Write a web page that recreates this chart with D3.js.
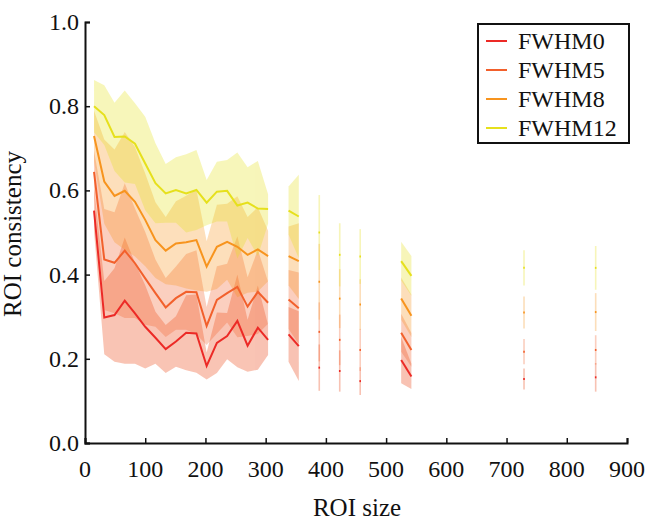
<!DOCTYPE html>
<html>
<head>
<meta charset="utf-8">
<script src="https://cdn.jsdelivr.net/npm/d3@7"></script>
<style>
  body { margin: 0; background: #fff; }
  text { font-family: "Liberation Serif", "Times New Roman", serif; fill: #111; }
</style>
</head>
<body>
<div id="chart"></div>
<script>

// ROI sizes that have data, and which run of consecutive sizes each one belongs to
let roiSize = [15, 32, 49, 66, 83, 100, 117, 134, 151, 168, 185, 202, 219, 236, 253, 270, 287, 304,
               338, 355, 389, 423, 457, 525, 542, 729, 848]
let runId   = [0, 0, 0, 0, 0, 0, 0, 0, 0, 0, 0, 0, 0, 0, 0, 0, 0, 0,
               1, 1, 2, 3, 4, 5, 5, 6, 7]

let seriesNames = ['FWHM0', 'FWHM5', 'FWHM8', 'FWHM12']

// mean ROI consistency
let fwhm0 = [0.552, 0.298, 0.304, 0.338, 0.308, 0.276, 0.250, 0.223, 0.241, 0.262, 0.260, 0.183, 0.238, 0.254, 0.290, 0.231, 0.274, 0.245,
             0.258, 0.230, 0.179, 0.171, 0.147, 0.197, 0.158, 0.152, 0.156]
let fwhm5 = [0.644, 0.436, 0.428, 0.457, 0.427, 0.391, 0.356, 0.322, 0.344, 0.359, 0.358, 0.278, 0.340, 0.356, 0.371, 0.324, 0.359, 0.333,
             0.341, 0.320, 0.264, 0.245, 0.221, 0.262, 0.221, 0.217, 0.221]
let fwhm8 = [0.729, 0.621, 0.587, 0.599, 0.573, 0.530, 0.482, 0.457, 0.474, 0.477, 0.482, 0.419, 0.466, 0.478, 0.466, 0.447, 0.460, 0.444,
             0.444, 0.432, 0.383, 0.343, 0.329, 0.343, 0.302, 0.310, 0.311]
let fwhm12 = [0.800, 0.779, 0.727, 0.728, 0.711, 0.664, 0.617, 0.593, 0.601, 0.593, 0.601, 0.571, 0.597, 0.599, 0.564, 0.571, 0.557, 0.556,
              0.552, 0.538, 0.500, 0.447, 0.443, 0.432, 0.397, 0.416, 0.416]

// spread (shaded band = mean +/- sd)
let sd0 = [0.050, 0.087, 0.111, 0.150, 0.120, 0.099, 0.062, 0.057, 0.060, 0.089, 0.093, 0.032, 0.072, 0.055, 0.110, 0.062, 0.100, 0.036,
           0.065, 0.083, 0.055, 0.049, 0.033, 0.055, 0.030, 0.025, 0.034]
let sd5 = [0.050, 0.120, 0.120, 0.160, 0.130, 0.110, 0.080, 0.070, 0.075, 0.090, 0.100, 0.045, 0.080, 0.070, 0.120, 0.070, 0.100, 0.050,
           0.070, 0.085, 0.070, 0.060, 0.050, 0.045, 0.040, 0.030, 0.035]
let sd8 = [0.060, 0.100, 0.110, 0.140, 0.130, 0.110, 0.090, 0.080, 0.100, 0.110, 0.120, 0.060, 0.100, 0.090, 0.120, 0.090, 0.100, 0.060,
           0.070, 0.090, 0.090, 0.070, 0.060, 0.050, 0.050, 0.038, 0.045]
let sd12 = [0.062, 0.071, 0.081, 0.109, 0.096, 0.111, 0.095, 0.070, 0.078, 0.093, 0.095, 0.054, 0.071, 0.073, 0.126, 0.084, 0.113, 0.035,
            0.057, 0.099, 0.089, 0.075, 0.065, 0.046, 0.047, 0.042, 0.052]

let xTicks = [0, 100, 200, 300, 400, 500, 600, 700, 800, 900]
let yTicks = [0.0, 0.2, 0.4, 0.6, 0.8, 1.0]

let colors = ['#ec2a26', '#f2602c', '#f7941e', '#e6e01c']
// bands are a bit warmer than the lines
let bandColors = ['#ea3a06', '#f2602c', '#f7941e', '#e6e01c']

let means = [fwhm0, fwhm5, fwhm8, fwhm12]
let sds = [sd0, sd5, sd8, sd12]

let width = 652, height = 524
let margin = {left: 85, right: 25, top: 22, bottom: 81}

let svg = d3.select('#chart')
            .append('svg')
            .attr('width', width)
            .attr('height', height)

let x = d3.scaleLinear().domain([0, 900]).range([margin.left, width - margin.right])
let y = d3.scaleLinear().domain([0, 1]).range([height - margin.bottom, margin.top])

let series = seriesNames.map(function(name, i){
    let pts = roiSize.map(function(s, j){
        return {size: s, run: runId[j], mean: means[i][j], lo: means[i][j] - sds[i][j], hi: means[i][j] + sds[i][j]}
    })
    let runs = d3.groups(pts, d => d.run).map(d => d[1])
    return {name: name, color: colors[i], band: bandColors[i], runs: runs}
})

let area = d3.area()
             .x(d => x(d.size))
             .y0(d => y(d.lo))
             .y1(d => y(d.hi))
let line = d3.line()
             .x(d => x(d.size))
             .y(d => y(d.mean))

// bands first
let bands = svg.append('g')
series.forEach(function(s){
    let g = bands.append('g').attr('fill', s.band).attr('stroke', s.band).attr('opacity', 0.3)
    s.runs.forEach(function(r){
        if (r.length > 1){
            g.append('path').attr('d', area(r)).attr('stroke', 'none')
        } else {
            g.append('line')
             .attr('x1', x(r[0].size)).attr('x2', x(r[0].size))
             .attr('y1', y(r[0].lo)).attr('y2', y(r[0].hi))
             .attr('stroke-width', 1.6)
        }
    })
})

// mean lines on top
let lines = svg.append('g')
series.forEach(function(s){
    s.runs.forEach(function(r){
        if (r.length > 1){
            lines.append('path').attr('d', line(r))
                 .attr('fill', 'none').attr('stroke', s.color).attr('stroke-width', 2)
        } else {
            lines.append('line')
                 .attr('x1', x(r[0].size)).attr('x2', x(r[0].size))
                 .attr('y1', y(r[0].mean) - 1).attr('y2', y(r[0].mean) + 1)
                 .attr('stroke', s.color).attr('stroke-width', 1.6)
        }
    })
})

// axes: ticks point inward
let xAxis = d3.axisTop(x).tickValues(xTicks).tickSize(5).tickFormat('')
let yAxis = d3.axisRight(y).tickValues(yTicks).tickSize(5).tickFormat('')

svg.append('g')
   .attr('transform', 'translate(0,' + y(0) + ')')
   .call(xAxis)
   .call(g => g.select('.domain').attr('stroke', '#111').attr('stroke-width', 2))
   .call(g => g.selectAll('.tick line').attr('stroke', '#111').attr('stroke-width', 1.5))

svg.append('g')
   .attr('transform', 'translate(' + x(0) + ',0)')
   .call(yAxis)
   .call(g => g.select('.domain').attr('stroke', '#111').attr('stroke-width', 2))
   .call(g => g.selectAll('.tick line').attr('stroke', '#111').attr('stroke-width', 1.5))

svg.append('g').selectAll('text')
   .data(xTicks)
   .enter()
   .append('text')
   .attr('x', d => x(d))
   .attr('y', 477)
   .attr('text-anchor', 'middle')
   .style('font-size', '24px')
   .text(d => d)

svg.append('g').selectAll('text')
   .data(yTicks)
   .enter()
   .append('text')
   .attr('x', 79)
   .attr('y', d => y(d) + 8)
   .attr('text-anchor', 'end')
   .style('font-size', '24px')
   .text(d => d.toFixed(1))

svg.append('text')
   .attr('x', 357)
   .attr('y', 516)
   .attr('text-anchor', 'middle')
   .style('font-size', '25px')
   .text('ROI size')

svg.append('text')
   .attr('transform', 'translate(21,234) rotate(-90)')
   .attr('text-anchor', 'middle')
   .style('font-size', '25px')
   .text('ROI consistency')

// legend
let legend = svg.append('g').attr('transform', 'translate(478,24)')
legend.append('rect')
      .attr('width', 151).attr('height', 119)
      .attr('fill', '#fff').attr('stroke', '#111').attr('stroke-width', 2)

let items = legend.selectAll('g.item')
                  .data(series)
                  .enter()
                  .append('g')
                  .attr('class', 'item')
                  .attr('transform', (d, i) => 'translate(0,' + (17 + i * 29) + ')')
items.append('line')
     .attr('x1', 8).attr('x2', 29)
     .attr('stroke', d => d.color).attr('stroke-width', 2)
items.append('text')
     .attr('x', 40).attr('y', 8)
     .style('font-size', '24px')
     .text(d => d.name)

</script>
</body>
</html>
